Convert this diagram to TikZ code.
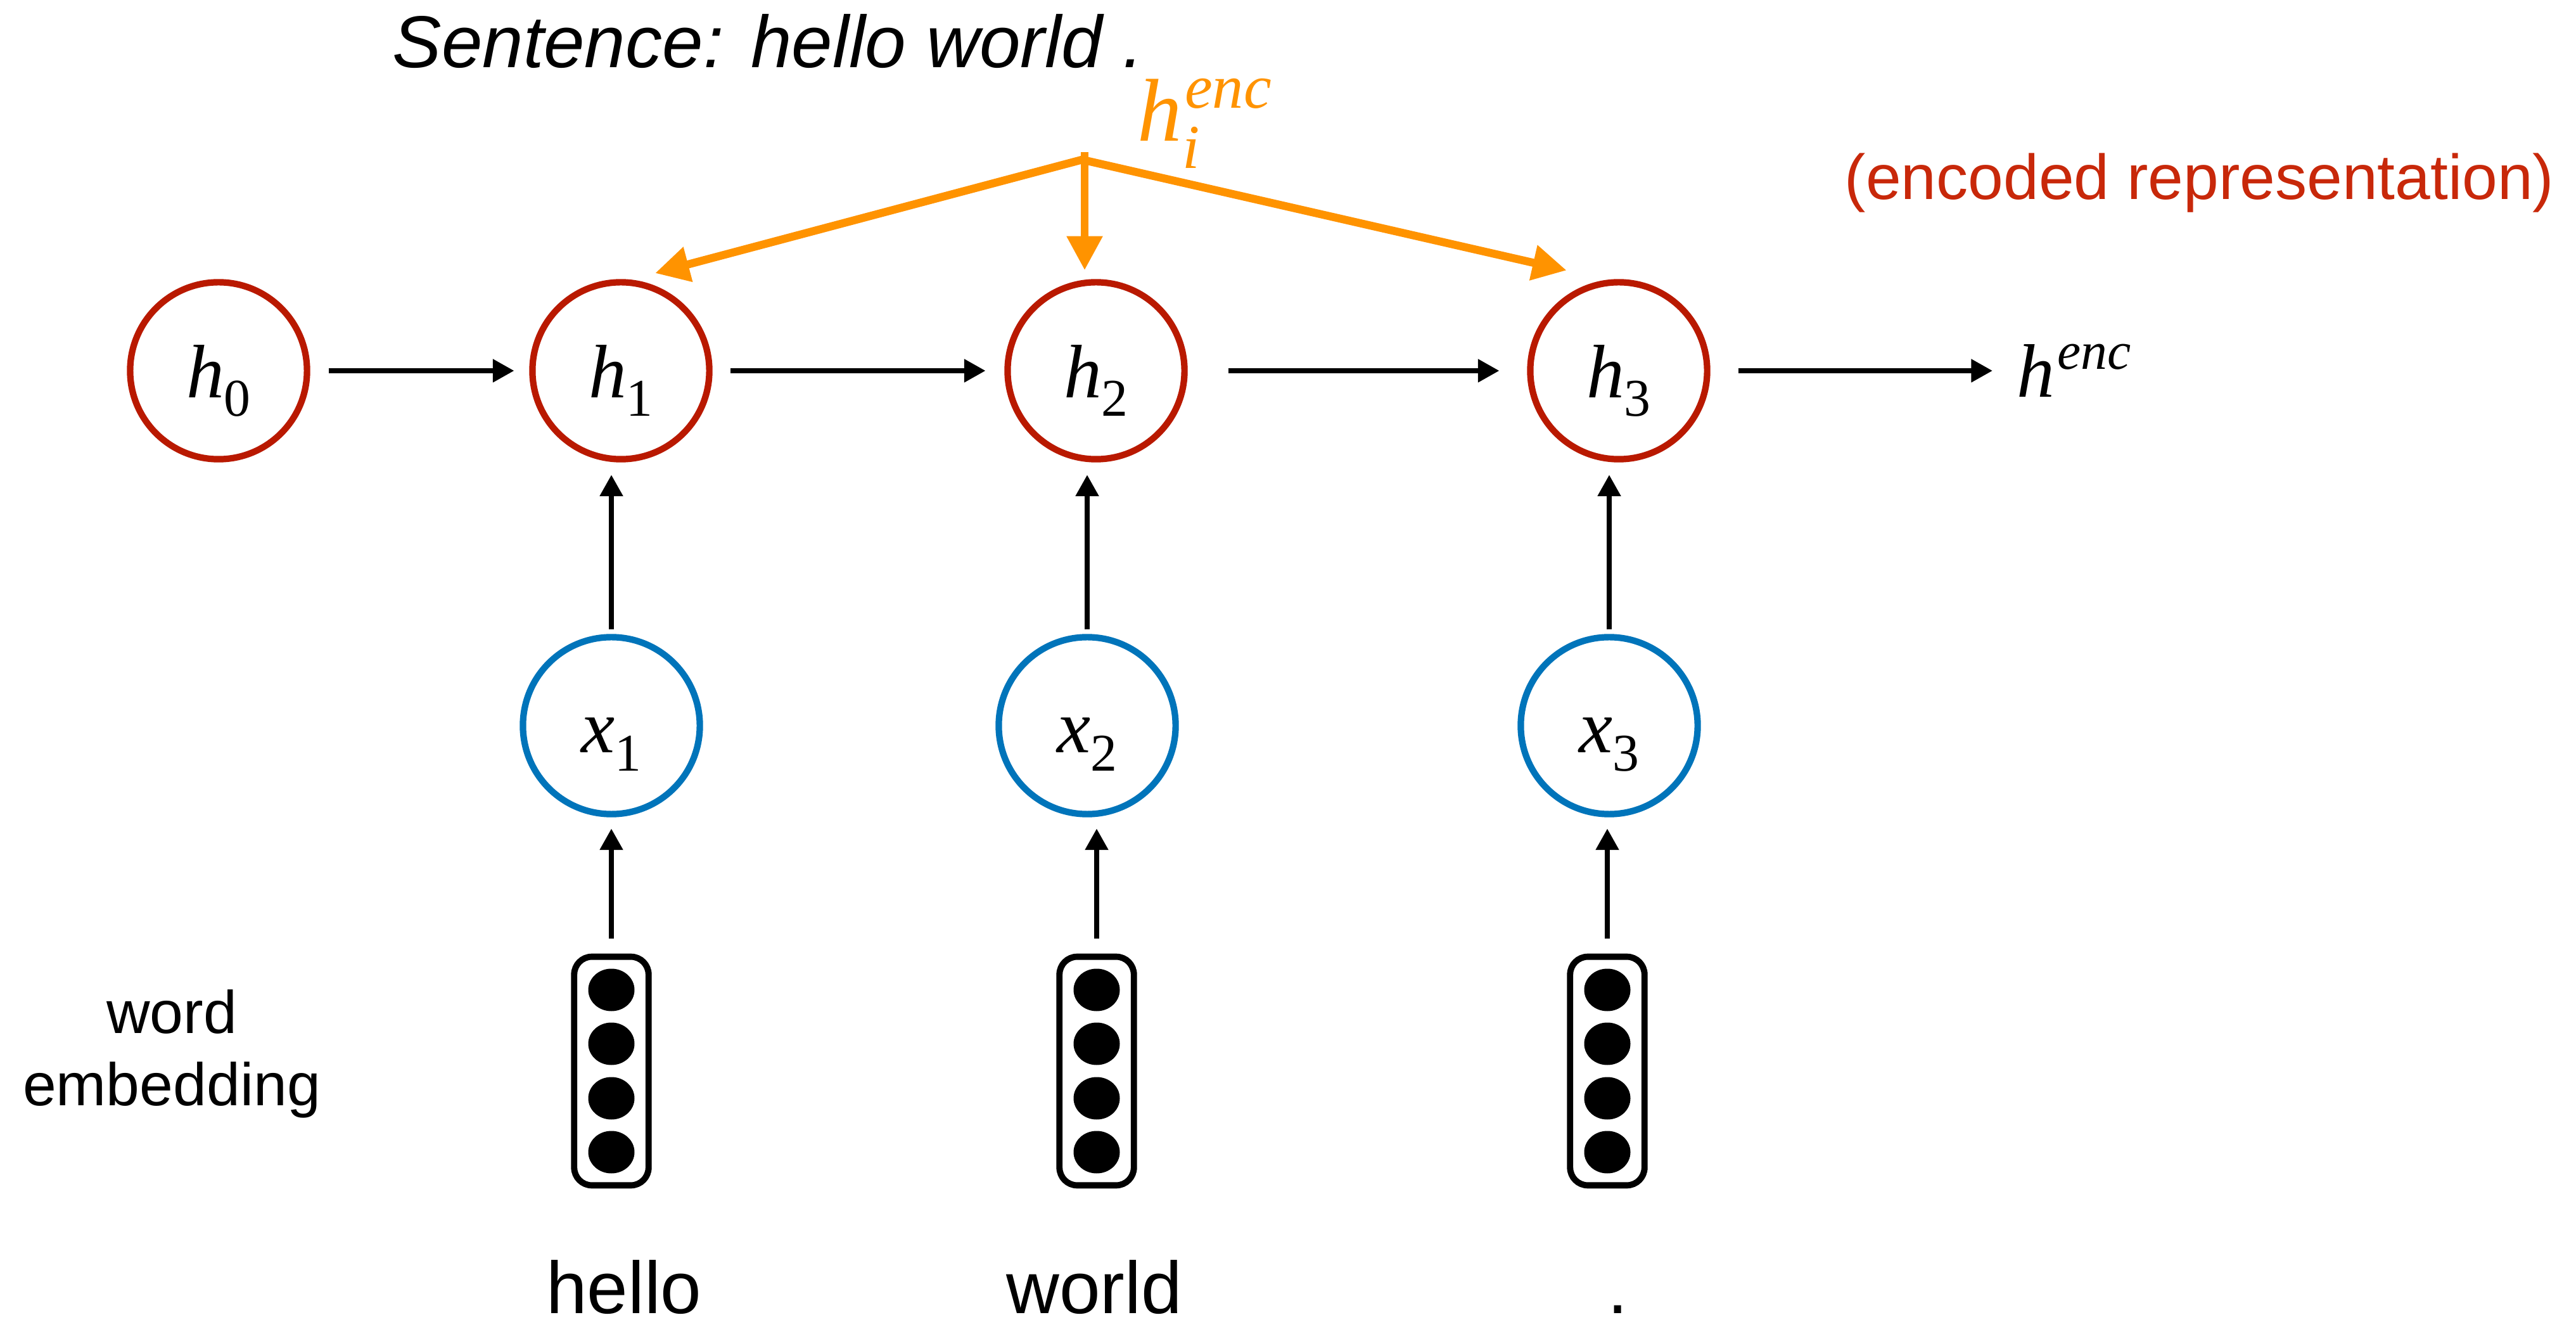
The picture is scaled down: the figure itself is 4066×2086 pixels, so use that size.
\documentclass[tikz,border=0pt]{standalone}
\usepackage{graphicx}
\usepackage{fontspec}
\setmainfont{Liberation Sans}
\newfontfamily\tsf{Liberation Serif}
\newcommand{\mySub}[2]{{\tsf\itshape #1}\raisebox{-0.24em}{\scalebox{0.7}{\tsf #2}}}
\newcommand{\mySup}[2]{{\tsf\itshape #1}\kern0.03em\raisebox{0.37em}{\scalebox{0.7}{\tsf\itshape #2}}}
\newcommand{\mySubSup}[3]{{\tsf\itshape #1}\rlap{\raisebox{-0.3em}{\scalebox{0.7}{\tsf\itshape #2}}}\kern0.03em\raisebox{0.37em}{\scalebox{0.7}{\tsf\itshape #3}}}
\usetikzlibrary{arrows.meta,calc}
\definecolor{hred}{RGB}{185,25,0}
\definecolor{tred}{RGB}{200,40,10}
\definecolor{xblue}{RGB}{0,116,186}
\definecolor{orng}{RGB}{255,147,0}
\begin{document}
\begin{tikzpicture}[x=0.01cm,y=-0.01cm,
 hnode/.style={circle,draw=hred,line width=2.9pt,minimum size=79.4pt,inner sep=0pt,outer sep=0pt,font=\fontsize{34}{40}\selectfont,text height=24.4pt,text depth=0pt},
 xnode/.style={hnode,draw=xblue},
 embbox/.style={draw=black,line width=2.8pt,rounded corners=8pt,minimum width=33.4pt,minimum height=102.6pt,inner sep=0pt,outer sep=0pt},
 blk/.style={line width=2.2pt,-{Triangle[length=9.6pt,width=10pt]}},
 org/.style={draw=orng,line width=3.6pt,-{Triangle[length=15.3pt,width=15.3pt]}},
 wordlbl/.style={font=\fontsize{33}{40}\selectfont,anchor=base,inner sep=0pt,text depth=0pt}
]
\fill[white] (0,0) rectangle (4066,2086);
\useasboundingbox (0,0) rectangle (4066,2086);

% hidden states
\node[hnode] (h0) at (345,585) {\mySub{h}{0}};
\node[hnode] (h1) at (980,585) {\mySub{h}{1}};
\node[hnode] (h2) at (1730,585) {\mySub{h}{2}};
\node[hnode] (h3) at (2555,585) {\mySub{h}{3}};
\node[anchor=base west,inner sep=0pt,font=\fontsize{34}{40}\selectfont] (henc) at (3183,627) {\mySup{h}{enc}};

% inputs
\node[xnode] (x1) at (965,1145) {\mySub{x}{1}};
\node[xnode] (x2) at (1716,1145) {\mySub{x}{2}};
\node[xnode] (x3) at (2540,1145) {\mySub{x}{3}};

% embeddings
\node[embbox] (e1) at (965,1690) {};
\node[embbox] (e2) at (1731,1690) {};
\node[embbox] (e3) at (2537,1690) {};
\foreach \c in {e1,e2,e3}
  \foreach \dy in {-128,-43,43,128}
    \fill ($(\c.center)+(0,\dy)$) ellipse [x radius=36.5, y radius=33.5];

% words
\node[wordlbl] (w1) at (985,2072) {hello};
\node[wordlbl] (w2) at (1727,2072) {world};
\node[wordlbl] (w3) at (2554,2072) {.};

% texts
\node[anchor=base west,inner sep=0pt,font=\fontsize{33}{40}\selectfont\itshape] (sent) at (619,107) {Sentence: hello world .};
\node[anchor=base west,inner sep=0pt,text=tred,font=\fontsize{28.5}{34}\selectfont] (encrep) at (2911,315) {(encoded representation)};
\node[align=center,inner sep=0pt,font=\fontsize{27}{32.3}\selectfont] (we) at (271,1663) {word\\embedding};
\node[anchor=base west,inner sep=0pt,text=orng,font=\fontsize{40}{48}\selectfont] (hienc) at (1795,223) {\mySubSup{h}{i}{enc}};

% recurrent arrows
\draw[blk,shorten <=9.9pt,shorten >=8.2pt] (h0) -- (h1);
\draw[blk,shorten <=9.6pt,shorten >=9.9pt] (h1) -- (h2);
\draw[blk,shorten <=19.6pt,shorten >=13.9pt] (h2) -- (h3);
\draw[blk,shorten <=13.9pt,shorten >=10.8pt] (h3) -- (h3 -| henc.west);

% input arrows
\foreach \i in {1,2,3}{
  \draw[blk,shorten <=3.4pt,shorten >=7pt] (x\i.north) -- (x\i.north |- h\i.south);
  \draw[blk,shorten <=8.2pt,shorten >=6.5pt] (e\i.north) -- (e\i.north |- x\i.south);
}

% orange arrows
\coordinate (apex) at (1708,252);
\coordinate (apextop) at (1712,240);
\draw[org,shorten >=15.9pt] (apex) -- (h1.north);
\draw[org,shorten >=24pt] (apex) -- (h3.north);
\draw[org,shorten >=5.4pt] (apextop) -- (apextop |- h2.north);
\end{tikzpicture}
\end{document}
